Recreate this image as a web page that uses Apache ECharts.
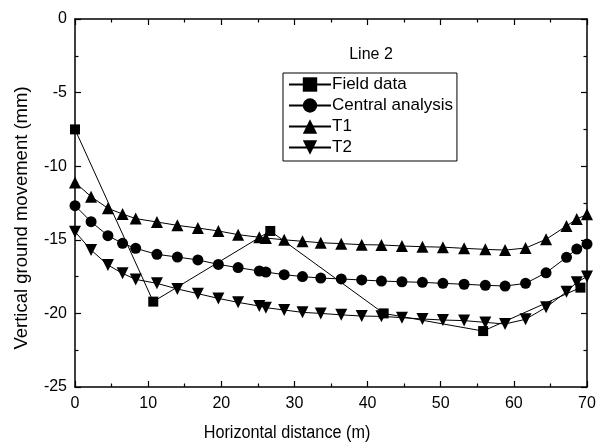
<!DOCTYPE html>
<html><head><meta charset="utf-8">
<script src="https://cdn.jsdelivr.net/npm/echarts@6/dist/echarts.min.js"></script>
<style>html,body{margin:0;padding:0;background:#fff}#c{width:604px;height:447px}</style>
</head><body><div id="c"></div>
<script>
const xModel = [0, 2.2, 4.5, 6.5, 8.3, 11.2, 14.0, 16.8, 19.6, 22.3, 25.2, 26.1, 28.6, 31.1, 33.6, 36.4, 39.2, 41.9, 44.7, 47.5, 50.3, 53.2, 56.1, 58.8, 61.6, 64.4, 67.2, 68.6, 70];
const t1 = [-11.1, -12.07, -12.86, -13.25, -13.56, -13.79, -14.02, -14.2, -14.4, -14.65, -14.83, -14.88, -15.0, -15.1, -15.2, -15.26, -15.33, -15.35, -15.42, -15.47, -15.5, -15.58, -15.65, -15.7, -15.56, -14.97, -14.06, -13.59, -13.27];
const central = [-12.68, -13.77, -14.72, -15.24, -15.58, -15.99, -16.17, -16.37, -16.67, -16.89, -17.12, -17.19, -17.37, -17.5, -17.6, -17.66, -17.73, -17.8, -17.85, -17.89, -17.96, -18.02, -18.09, -18.14, -17.96, -17.24, -16.19, -15.63, -15.29];
const t2 = [-14.45, -15.69, -16.71, -17.28, -17.69, -17.96, -18.34, -18.66, -18.98, -19.25, -19.5, -19.61, -19.77, -19.93, -20.0, -20.1, -20.18, -20.2, -20.29, -20.38, -20.45, -20.49, -20.61, -20.72, -20.4, -19.59, -18.53, -17.89, -17.5];
const xField = [0, 10.7, 26.7, 42.2, 55.8, 69.1];
const field = [-7.5, -19.2, -14.4, -20.0, -21.2, -18.25];
const names = ['Field data', 'Central analysis', 'T1', 'T2'];
const xTitle = 'Horizontal distance (m)';
const yTitle = 'Vertical ground movement (mm)';
const panelTitle = 'Line 2';

const pair = (xs, ys) => xs.map((x, i) => [x, ys[i]]);
const font = 'Liberation Sans, Arial, sans-serif';
const chart = echarts.init(document.getElementById('c'), null, {renderer: 'canvas'});
const axisCommon = {
  axisLine: {show: true, onZero: false, lineStyle: {color: '#000', width: 1.5}},
  axisTick: {show: true, inside: true, length: 6, lineStyle: {color: '#000', width: 1.2}},
  minorTick: {show: true, splitNumber: 2, length: 3.5, lineStyle: {color: '#000', width: 1.2}},
  splitLine: {show: false}
};
const mk = (name, data, symbol, size) => ({
  name, type: 'line', data, symbol, symbolSize: size, showSymbol: true,
  lineStyle: {color: '#000', width: 1}, itemStyle: {color: '#000', borderWidth: 0},
  emphasis: {disabled: true}, animation: false
});
chart.setOption({
  animation: false,
  grid: {left: 75, right: 17, top: 19, bottom: 60},
  xAxis: [
    Object.assign({type: 'value', min: 0, max: 70, interval: 10, position: 'bottom',
      axisLabel: {fontFamily: font, fontSize: 16, color: '#000', margin: 9}}, axisCommon),
    Object.assign({type: 'value', min: 0, max: 70, interval: 10, position: 'top',
      axisLabel: {show: false}}, axisCommon)
  ],
  yAxis: [
    Object.assign({type: 'value', min: -25, max: 0, interval: 5, position: 'left',
      axisLabel: {fontFamily: font, fontSize: 16, color: '#000', margin: 8}}, axisCommon),
    Object.assign({type: 'value', min: -25, max: 0, interval: 5, position: 'right',
      axisLabel: {show: false}}, axisCommon)
  ],
  legend: {
    data: names, orient: 'vertical', left: 283, top: 73,
    itemWidth: 42, itemHeight: 18, itemGap: 4, padding: [3, 4, 5, 5],
    borderColor: '#000', borderWidth: 1,
    textStyle: {fontFamily: font, fontSize: 17, color: '#000', padding: [0, 0, 0, -4]},
    selectedMode: false
  },
  graphic: [
    {type: 'text', x: 371, y: 55, style: {text: panelTitle, fontFamily: font, fontSize: 16, fill: '#000', align: 'center', verticalAlign: 'middle'}},
    {type: 'text', x: 287, y: 433, scaleX: 0.9, style: {text: xTitle, fontFamily: font, fontSize: 18, fill: '#000', align: 'center', verticalAlign: 'middle'}},
    {type: 'text', x: 22, y: 218, rotation: Math.PI / 2, style: {text: yTitle, fontFamily: font, fontSize: 18.5, fill: '#000', align: 'center', verticalAlign: 'middle'}}
  ],
  series: [
    mk(names[0], pair(xField, field), 'rect', 10),
    mk(names[1], pair(xModel, central), 'circle', 11),
    mk(names[2], pair(xModel, t1), 'triangle', 12),
    mk(names[3], pair(xModel, t2), 'path://M0,0 L10,0 L5,9 Z', 12)
  ]
});
</script></body></html>
